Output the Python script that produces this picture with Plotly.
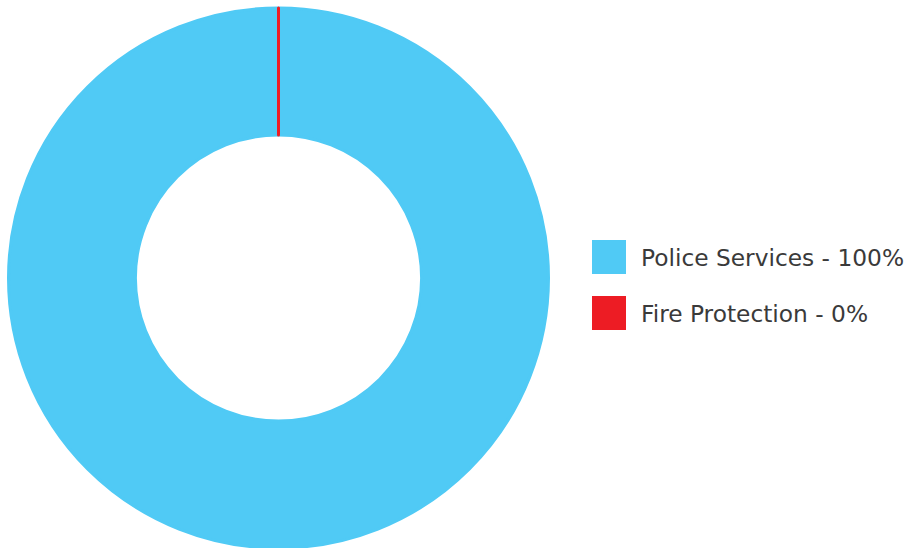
import plotly.graph_objects as go

labels = ["Police Services", "Fire Protection"]
values = [100, 0]
pct_labels = ["100%", "0%"]
colors = ["#50CAF5", "#ED1C24"]

W, H = 908, 548

fig = go.Figure()
fig.add_trace(go.Pie(
    labels=labels,
    values=values,
    hole=0.53,
    sort=False,
    direction="clockwise",
    rotation=0,
    textinfo="none",
    showlegend=False,
    marker=dict(colors=colors, line=dict(color=colors, width=3)),
    domain=dict(x=[8 / W, 549 / W], y=[0, 1 - 8 / H]),
))

# Custom legend built from the data arrays
sq = 34
x0 = 592
y_start = 240
gap = 56
for i, (lab, pct, col) in enumerate(zip(labels, pct_labels, colors)):
    ytop = y_start + i * gap
    fig.add_shape(type="rect", xref="paper", yref="paper",
                  x0=x0 / W, x1=(x0 + sq) / W,
                  y0=1 - (ytop + sq) / H, y1=1 - ytop / H,
                  fillcolor=col, line=dict(width=0))
    fig.add_annotation(xref="paper", yref="paper",
                       x=639 / W, y=1 - (ytop + sq / 2) / H,
                       xanchor="left", yanchor="middle",
                       text=f"{lab} - {pct}", showarrow=False,
                       font=dict(family="DejaVu Sans", size=23.3, color="#3A3A3A"))

fig.update_layout(
    width=W, height=H,
    margin=dict(l=0, r=0, t=0, b=0),
    paper_bgcolor="white",
    plot_bgcolor="white",
)

fig.write_html(
    "out.html",
    config={"displayModeBar": False},
    post_script="document.body.style.margin='0';document.body.style.overflow='hidden';",
)
